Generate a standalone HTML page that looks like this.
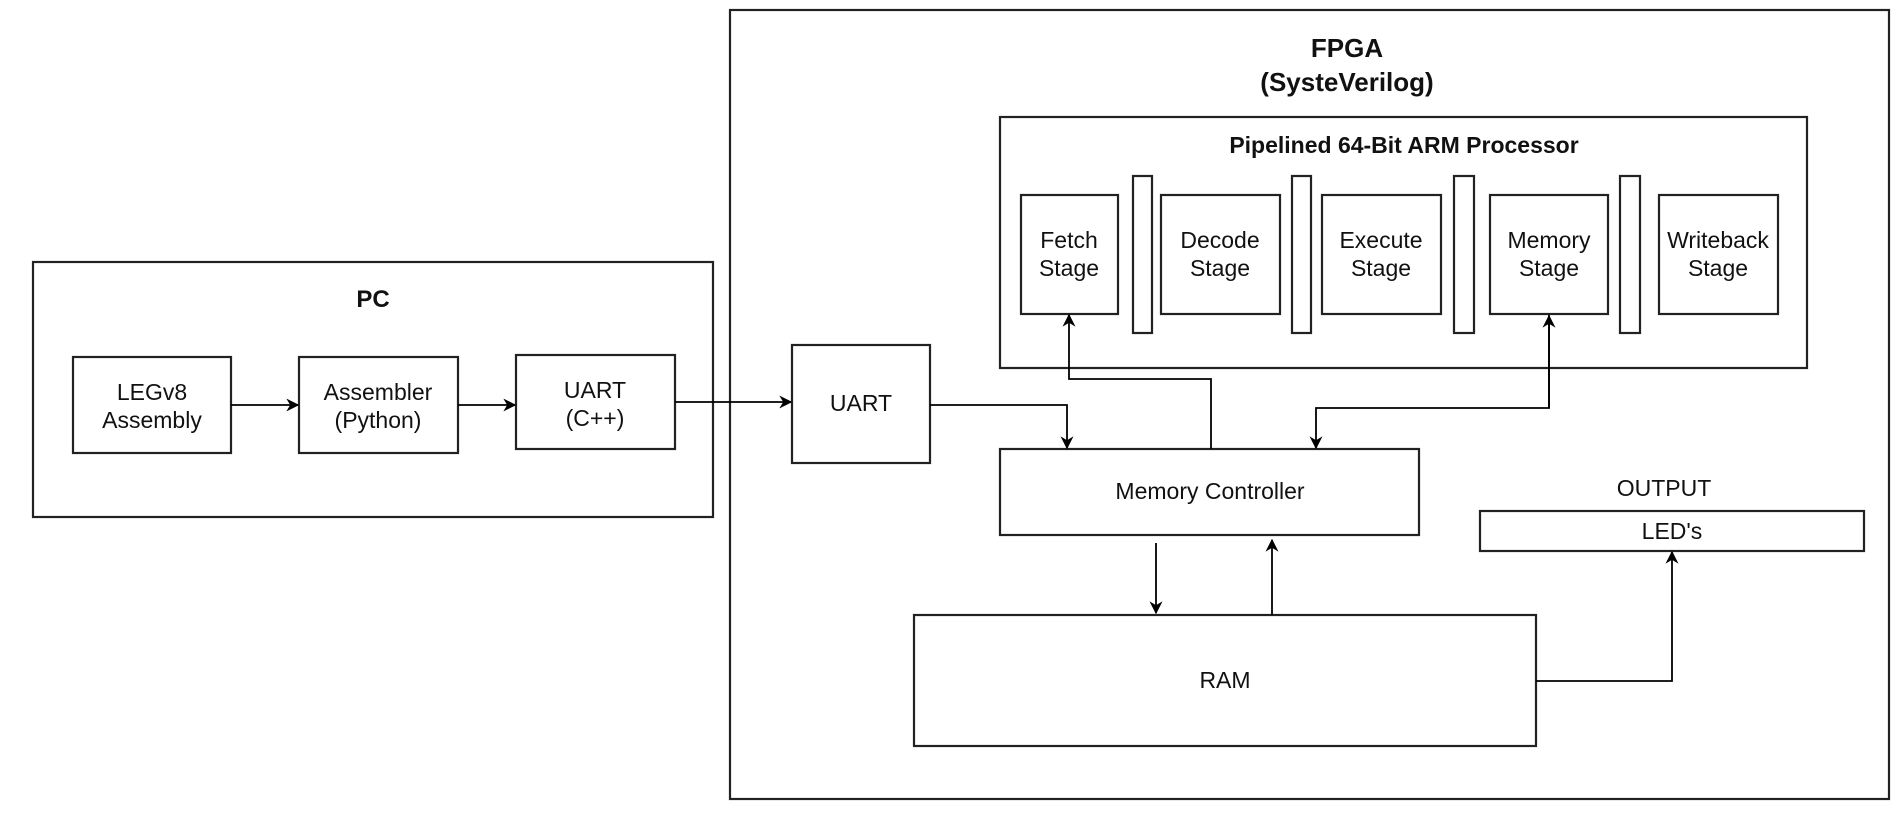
<!DOCTYPE html>
<html><head><meta charset="utf-8"><style>
html,body{margin:0;padding:0;background:#fff;}
svg{display:block;}
text{font-family:"Liberation Sans",sans-serif;fill:#111;}
</style></head><body>
<svg width="1899" height="814" viewBox="0 0 1899 814" xmlns="http://www.w3.org/2000/svg">
<defs>
<marker id="b" viewBox="0 0 10 10" refX="9" refY="5" markerWidth="13" markerHeight="13" orient="auto" markerUnits="userSpaceOnUse"><path d="M0,0 L10,5 L0,10 L3,5 z" fill="#000"/></marker></defs>
<g fill="#fff" stroke="#222" stroke-width="2.2">
<rect x="730" y="10" width="1159" height="789"/>
<rect x="1000" y="117" width="807" height="251"/>
<rect x="1021" y="195" width="97" height="119"/>
<rect x="1161" y="195" width="119" height="119"/>
<rect x="1322" y="195" width="119" height="119"/>
<rect x="1490" y="195" width="118" height="119"/>
<rect x="1659" y="195" width="119" height="119"/>
<rect x="1133" y="176" width="19" height="157"/>
<rect x="1292" y="176" width="19" height="157"/>
<rect x="1454" y="176" width="20" height="157"/>
<rect x="1620" y="176" width="20" height="157"/>
<rect x="33" y="262" width="680" height="255"/>
<rect x="73" y="357" width="158" height="96"/>
<rect x="299" y="357" width="159" height="96"/>
<rect x="516" y="355" width="159" height="94"/>
<rect x="792" y="345" width="138" height="118"/>
<rect x="1000" y="449" width="419" height="86"/>
<rect x="1480" y="511" width="384" height="40"/>
<rect x="914" y="615" width="622" height="131"/>
</g>
<g fill="none" stroke="#000" stroke-width="1.8">
<path d="M231,405 H298" marker-end="url(#b)"/>
<path d="M458,405 H515" marker-end="url(#b)"/>
<path d="M675,402 H791" marker-end="url(#b)"/>
<path d="M930,405 H1067 V448" marker-end="url(#b)"/>
<path d="M1211,449 V379 H1069 V315" marker-end="url(#b)"/>
<path d="M1549,315 V408 H1316 V448" marker-end="url(#b)"/>
<path d="M1549,408 V316" marker-end="url(#b)"/>
<path d="M1156,543 V613" marker-end="url(#b)"/>
<path d="M1272,615 V540" marker-end="url(#b)"/>
<path d="M1536,681 H1672 V552" marker-end="url(#b)"/>
</g>
<g text-anchor="middle" font-size="23">
<text x="1347" y="57" font-weight="bold" font-size="26">FPGA</text>
<text x="1347" y="91" font-weight="bold" font-size="26">(SysteVerilog)</text>
<text x="1404" y="153" font-weight="bold" font-size="23">Pipelined 64-Bit ARM Processor</text>
<text x="1069" y="248">Fetch</text><text x="1069" y="276">Stage</text>
<text x="1220" y="248">Decode</text><text x="1220" y="276">Stage</text>
<text x="1381" y="248">Execute</text><text x="1381" y="276">Stage</text>
<text x="1549" y="248">Memory</text><text x="1549" y="276">Stage</text>
<text x="1718" y="248">Writeback</text><text x="1718" y="276">Stage</text>
<text x="373" y="307" font-weight="bold" font-size="24">PC</text>
<text x="152" y="400">LEGv8</text><text x="152" y="428">Assembly</text>
<text x="378" y="400">Assembler</text><text x="378" y="428">(Python)</text>
<text x="595" y="398">UART</text><text x="595" y="426">(C++)</text>
<text x="861" y="411">UART</text>
<text x="1210" y="499">Memory Controller</text>
<text x="1664" y="496">OUTPUT</text>
<text x="1672" y="539">LED's</text>
<text x="1225" y="688">RAM</text>
</g>
</svg>
</body></html>
